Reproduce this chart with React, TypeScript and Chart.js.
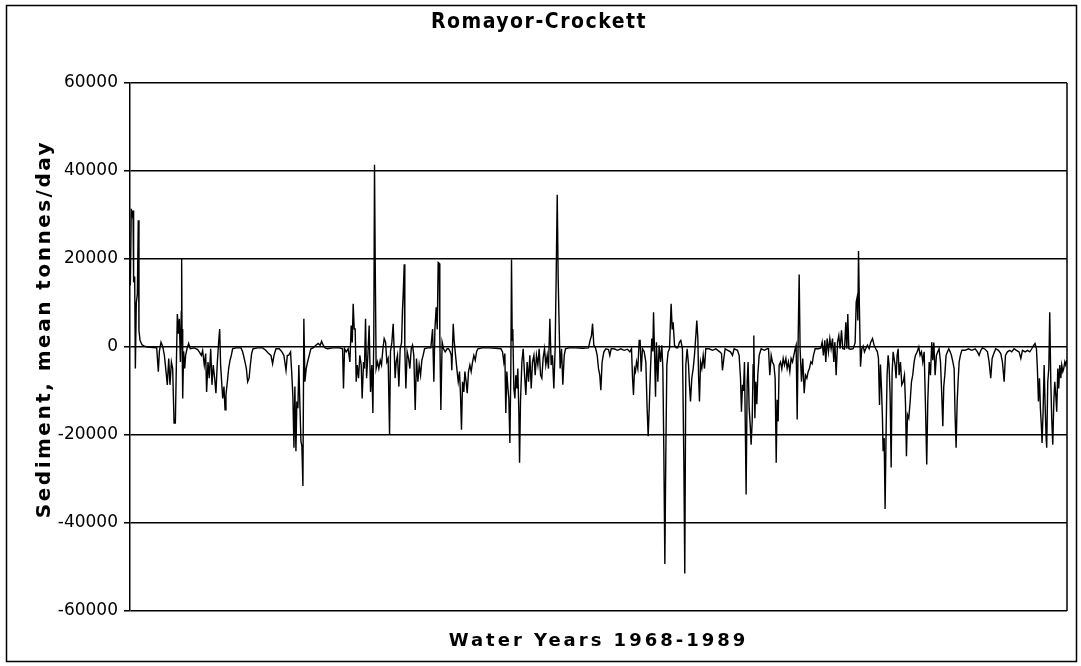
import React, { useEffect, useRef } from "react";
import { Chart, registerables } from "chart.js";

Chart.register(...registerables);

const chartTitle = "Romayor-Crockett";
const xAxisTitle = "Water Years 1968-1989";
const yAxisTitle = "Sediment, mean tonnes/day";
const yTickValues = [-60000, -40000, -20000, 0, 20000, 40000, 60000];
const dayStart = 0;
const dayEnd = 8036;

// days since 1 Oct 1967 (start of water year 1968)
const days = [
  3, 11, 20, 26, 31, 40, 46, 54, 63, 71, 77, 86, 103, 123, 151, 194, 229, 243, 252, 266, 280, 295, 309, 320, 332, 343, 355, 366, 378, 389, 397, 406, 415, 423, 432, 440, 443, 446, 452, 460, 469, 477, 489, 503, 517, 552, 580, 594, 612, 623, 637, 649, 657, 669, 680, 692, 703, 714, 726, 737, 749, 760, 769, 777, 786, 795, 806, 815, 823, 835, 846, 858, 869, 880, 909, 952, 966, 983, 998, 1009, 1021, 1032, 1043, 1055, 1095, 1138, 1166, 1189, 1209, 1223, 1235, 1252, 1280, 1303, 1320, 1338, 1349,
  1360, 1377, 1388, 1397, 1406, 1414, 1423, 1431, 1440, 1448, 1457, 1466, 1474, 1483, 1491, 1500, 1511, 1523, 1537, 1551, 1571, 1594, 1614, 1631, 1643, 1657, 1674, 1694, 1737, 1794, 1823, 1831, 1840, 1854, 1871, 1886, 1897, 1906, 1914, 1923, 1931, 1940, 1949, 1960, 1971, 1983, 1991, 2003, 2011, 2020, 2029, 2040, 2051, 2063, 2074, 2083, 2091, 2097, 2103, 2111, 2123, 2134, 2146, 2157, 2169, 2180, 2192, 2203, 2214, 2226, 2234, 2246, 2257, 2266, 2274, 2283, 2294, 2306, 2317, 2329, 2337, 2343, 2352, 2357, 2366, 2377, 2389, 2400, 2412, 2423, 2434, 2446, 2457, 2469, 2480, 2492, 2503, 2514, 2526, 2552, 2580, 2595, 2606, 2615, 2626, 2635, 2643, 2652, 2657, 2666, 2677, 2689, 2703, 2720,
  2732, 2746, 2755, 2760, 2772, 2780, 2792, 2803, 2815, 2826, 2835, 2843, 2852, 2863, 2872, 2883, 2892, 2903, 2915, 2926, 2938, 2949, 2961, 2972, 2983, 3023, 3081, 3138, 3181, 3195, 3206, 3215, 3223, 3232, 3241, 3249, 3258, 3266, 3272, 3278, 3283, 3292, 3301, 3309, 3318, 3326, 3335, 3341, 3349, 3361, 3372, 3384, 3395, 3406, 3418, 3429, 3441, 3452, 3464, 3475, 3486, 3498, 3509, 3521, 3532, 3543, 3555, 3566, 3578, 3589, 3601, 3612, 3623, 3635, 3646, 3655, 3664, 3672, 3681, 3689, 3701, 3712, 3724, 3735, 3766, 3824, 3881, 3932, 3946, 3958, 3967, 3978, 3992, 4007, 4018, 4029, 4038, 4049, 4064, 4081,
  4104, 4115, 4127, 4152, 4181, 4210, 4238, 4267, 4287, 4301, 4310, 4318, 4327, 4335, 4344, 4355, 4367, 4375, 4384, 4395, 4410, 4424, 4435, 4444, 4453, 4464, 4475, 4484, 4490, 4498, 4507, 4515, 4527, 4538, 4550, 4561, 4570, 4578, 4587, 4595, 4604, 4615, 4627, 4635, 4641, 4650, 4658, 4670, 4684, 4698, 4713, 4724, 4738, 4750, 4758, 4767, 4778, 4790, 4798, 4807, 4818, 4830, 4841, 4853, 4861, 4870, 4876, 4884, 4893, 4904, 4916, 4927, 4938, 4967, 4996, 5024, 5058, 5073, 5081, 5093, 5104, 5127, 5150, 5167, 5181, 5210, 5224, 5236, 5244, 5253, 5261, 5270, 5278, 5284, 5293, 5301, 5310, 5319, 5327, 5336, 5344, 5350, 5359, 5367, 5376, 5384, 5396, 5413, 5441, 5464,
  5476, 5487, 5499, 5510, 5522, 5533, 5542, 5550, 5559, 5567, 5579, 5590, 5602, 5613, 5625, 5636, 5647, 5659, 5670, 5682, 5693, 5705, 5713, 5722, 5730, 5739, 5747, 5759, 5770, 5782, 5793, 5805, 5816, 5827, 5839, 5850, 5862, 5876, 5905, 5925, 5936, 5947, 5959, 5967, 5979, 5990, 6002, 6013, 6025, 6036, 6045, 6056, 6068, 6079, 6090, 6102, 6113, 6128, 6139, 6148, 6156, 6165, 6182, 6202, 6219, 6228, 6236, 6242, 6248, 6256, 6265, 6276, 6288, 6299, 6310, 6325, 6339, 6353, 6368, 6382, 6396, 6410, 6419, 6428, 6436, 6445, 6453, 6459, 6468, 6476, 6485, 6493, 6502, 6510, 6519, 6528, 6536, 6545, 6553, 6562, 6570, 6579, 6588, 6596, 6608, 6619, 6631, 6642, 6651, 6659, 6668, 6679, 6691, 6702, 6713, 6725, 6736, 6751, 6765, 6776, 6788, 6799, 6811, 6822, 6833,
  6842, 6854, 6865, 6876, 6885, 6894, 6905, 6916, 6928, 6939, 6951, 6962, 6971, 6979, 6988, 6999, 7011, 7022, 7034, 7045, 7057, 7068, 7076, 7085, 7094, 7102, 7111, 7122, 7134, 7162, 7191, 7219, 7248, 7268, 7282, 7297, 7311, 7334, 7354, 7368, 7382, 7394, 7408, 7425, 7448, 7468, 7482, 7497, 7508, 7525, 7545, 7562, 7582, 7602, 7625, 7640, 7654, 7677, 7697, 7717, 7734, 7751, 7762, 7774, 7782, 7791, 7800, 7808, 7817, 7822, 7831, 7840, 7848, 7857, 7862, 7871, 7880, 7888, 7897, 7905, 7914, 7923, 7931, 7940, 7948, 7957, 7965, 7974, 7983, 7991, 8000, 8008, 8017, 8025, 8034,
];

// sediment flux, mean tonnes/day
const sediment = [
  14000, 31400, 30000, 31000, 14700, 16000, -4900, 10000, 12000, 28800, 3700, 1500, 500, 200, 0, -100, -200, -5600, -1000, 1100, 200, -1900, -5600, -8600, -2600, -8600, -3400, -4900, -17300, -17300, -4900, 7500, 3000, 6400, -3400, 8000, 20100, 4100, -11700, -1000, -4900, -1900, -400, 800, -400, -200, -600, -1100, -1900, -800, -4100, -1500, -10200, -3400, -7100, -400, -8600, -4100, -7100, -10500, -3400, 1000, 4100, -4000, -7900, -11700, -9000, -14300, -10900, -7900, -4900, -3000, -1900, -400, -200, -200, -1100, -3000, -4900, -7900, -7100, -4100, -1500, -400, -200, -200, -800, -1500, -1900, -3800, -1900, -400, -400, -1100, -1900, -5300, -1900,
  -1900, -1100, -6400, -11300, -22900, -9000, -23700, -12400, -13900, -4100, -13200, -21400, -22500, -31600, 6400, -7900, -4900, -3400, -1900, -400, -200, 400, 800, 400, 1300, 400, -200, -400, -200, -200, -400, -9400, -400, -1100, -400, -3400, 4900, 1000, 9800, 4100, 4100, -7900, -4100, -7100, -1900, -4100, -11700, -3400, -4900, 6400, -7100, -1900, 4900, -10200, -4100, -15000, 3000, 41400, 19200, -4900, -3400, -4900, -3000, -4100, -400, 1900, 1100, -3400, -2600, -20000, -1000, 1100, 5300, -1000, -7100, -3400, -1900, -9000, -400, 1000, 8600, 12000, 18800, -400, -9400, -1100, -2600, -4900, -400, 400, -1900, -14300, -2600, -7900, -4100, -6400, -3000, -1900, -400, -200, -200, 4100, -7900, 4100, 9000, 4000, 19200, 19000, 2600, -14300, 1100, -400, -1100, -400,
  -400, -1100, -1900, -5300, 5300, 1500, -1900, -4900, -7900, -5600, -11300, -18800, -7900, -10200, -5600, -7900, -10500, -5600, -4100, -5600, -3400, -1900, -3000, -1100, -400, -200, -200, -300, -400, -1100, -3400, -1500, -15000, -5600, -9400, -11700, -21800, -5600, 19900, 1500, 4100, -9400, -11700, -6400, -9400, -4900, -15000, -26300, -12400, -3400, -400, -6400, -10900, -3400, -7900, -1900, -9400, -3400, -1900, -6400, -1900, -4100, -400, -6400, -7100, -2600, -400, -4100, -1900, -4900, 6400, -4100, -1900, -9400, -400, 15800, 34600, 15800, 4100, -4900, -400, -8600, -1900, -400, -200, -200, -300, -200, 1500, 2600, 5300, 400, -200, -1900, -4900, -6400, -9800, -3400, -1100, -400,
  -600, -1900, -400, -400, -750, -400, -750, -500, -1100, -400, -7100, -10900, -4900, -5600, -3400, -4900, 1500, 1500, -5600, -400, -1100, -3400, -13900, -20300, -13900, -4900, 1900, -1000, 7900, -400, -11300, 1100, -7900, 400, -3400, 400, -4900, -22900, -49300, -25200, -4100, -1100, -400, 5600, 9800, 4000, 5600, 400, -200, -200, 1100, 1500, -400, -25900, -51500, -4100, -400, -4000, -8600, -12400, -7100, -4900, -1900, 2600, 6000, 2000, -6400, -12400, -3400, -4900, -1900, -4900, -400, -400, -750, -400, -1100, -1500, -5300, -2600, -400, -750, -1100, -1900, -400, -750, -1900, -7100, -14700, -8600, -10000, -3400, -19900, -33500, -7900, -3400, -13900, -17700, -22200, -16900, -4000, 2600, -16200, -7900, -13000, -6400, -1900, -400, -750, -400,
  -400, -6400, -1900, -3400, -4100, -7100, -26300, -12000, -16900, -4100, -3400, -5000, -2600, -4100, -2600, -4900, -3400, -5600, -2600, -3400, -1900, -400, 400, -16500, 1100, 16500, -400, -7900, -2600, -10500, -6400, -7100, -5600, -4900, -3400, -3800, -1900, -400, -400, -200, 1100, -1900, 1500, -3400, 1900, -1100, 1900, -400, 1900, -3400, 1100, -6400, 1100, 2600, -400, 3800, -400, -500, 5600, -400, 7500, -400, -500, -400, 1000, 10200, 11300, 6000, 21800, 8600, -4500, -400, 200, -1100, -400, 400, -400, 1100, 1900, 400, -400, -1100, -2600, -13200, -4000, -9400, -16000, -23700, -20700, -36800, -18400, -6400, -1900, -4100, -11000, -27400, -6000, -1100, -2600, -4100, -7100, -1900, -400, -6400, -3400, -8600, -7900, -6400, -13000, -24800, -15400, -16200, -12400, -7900, -6400, -3400, -1900, -1100, 0, -1900, -1100, -3400, -1100, -13200, -26700,
  -12400, -3400, -6400, 1100, -3000, 1000, -6400, -1900, -1100, -400, -3400, -10900, -18000, -9000, -6400, -1900, -1100, -400, -1100, -1900, -3400, -4900, -15400, -22900, -12400, -7900, -3400, -1900, -750, -750, -400, -750, -400, -1100, -1900, -750, -200, -500, -1100, -3400, -7100, -2600, -1500, -400, -750, -1500, -3400, -7900, -1900, -1100, -750, -1100, -400, -750, -1100, -2600, -750, -1100, -750, -1100, -400, 400, 800, -400, -4900, -12400, -7100, -14000, -18400, -21800, -14700, -4100, -13000, -20700, -22900, -7900, -4900, 7900, -7900, -16200, -22200, -12400, -7900, -11000, -14700, -4900, -9400, -4100, -7100, -4100, -5600, -4900, -3400, -4100, -3000,
];

const frame = {
  id: "frame",
  afterDraw(chart: any) {
    const { ctx, chartArea } = chart;
    ctx.save();
    ctx.strokeStyle = "#000";
    ctx.lineWidth = 1.5;
    ctx.strokeRect(6.5, 5.5, 1070, 656);
    ctx.beginPath();
    ctx.moveTo(chartArea.right, chartArea.top);
    ctx.lineTo(chartArea.right, chartArea.bottom);
    ctx.stroke();

    ctx.fillStyle = "#000";
    ctx.textAlign = "center";
    ctx.textBaseline = "middle";
    ctx.font = "bold 21px 'DejaVu Sans Condensed', 'DejaVu Sans'";
    (ctx as any).letterSpacing = "1.5px";
    ctx.fillText(chartTitle, 539, 23);

    ctx.font = "bold 18px 'DejaVu Sans'";
    (ctx as any).letterSpacing = "3px";
    ctx.fillText(xAxisTitle, (chartArea.left + chartArea.right) / 2, 641);

    ctx.translate(45, 329);
    ctx.rotate(-Math.PI / 2);
    ctx.font = "bold 20px 'DejaVu Sans'";
    (ctx as any).letterSpacing = "2.5px";
    ctx.fillText(yAxisTitle, 0, 0);
    ctx.restore();
  },
};

export default function App() {
  const ref = useRef<HTMLCanvasElement | null>(null);
  useEffect(() => {
    document.body.style.margin = "0";
    const canvas = ref.current;
    if (!canvas) return;
    const chart = new Chart(canvas, {
      type: "line",
      data: {
        datasets: [
          {
            data: days.map((d, i) => ({ x: d, y: sediment[i] })),
            borderColor: "#000",
            borderWidth: 1.4,
            pointRadius: 0,
            tension: 0,
            fill: false,
          },
        ],
      },
      options: {
        animation: false,
        responsive: false,
        maintainAspectRatio: false,
        layout: { padding: { top: 83, bottom: 55, right: 14, left: 0 } },
        plugins: {
          legend: { display: false },
          tooltip: { enabled: false },
          title: { display: false },
        },
        scales: {
          x: { type: "linear", min: dayStart, max: dayEnd, display: false },
          y: {
            min: yTickValues[0],
            max: yTickValues[yTickValues.length - 1],
            afterBuildTicks: (s: any) => {
              s.ticks = yTickValues.map((v) => ({ value: v }));
            },
            afterFit: (s: any) => {
              s.width = 130;
            },
            ticks: {
              color: "#000",
              font: { family: "'DejaVu Sans'", size: 17 },
              padding: 6,
              callback: (v: any) => String(v),
            },
            grid: { color: "#000", lineWidth: 1.5, tickLength: 6, drawTicks: true },
            border: { color: "#000", width: 1.5 },
          },
        },
      },
      plugins: [frame],
    });
    return () => chart.destroy();
  }, []);
  return (
    <canvas ref={ref} width={1081} height={666} style={{ display: "block" }} />
  );
}
